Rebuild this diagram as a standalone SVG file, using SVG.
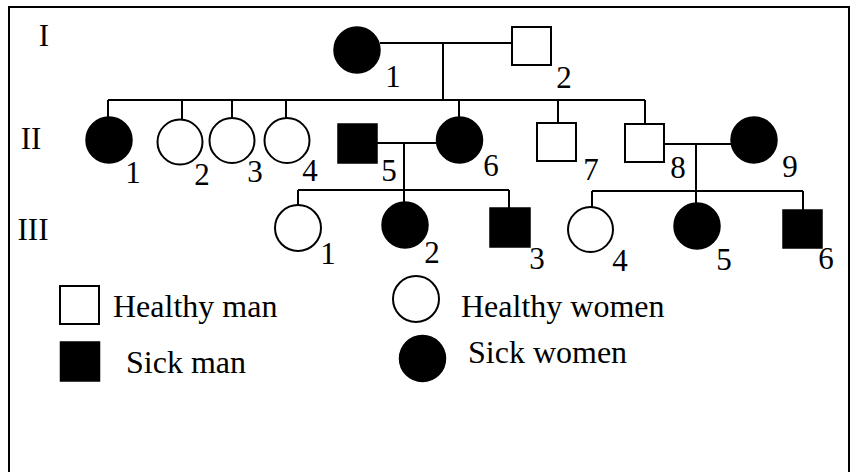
<svg xmlns="http://www.w3.org/2000/svg" width="852" height="472" viewBox="0 0 852 472">
<style>
.bg{fill:#fff}
.frame{fill:none;stroke:#000;stroke-width:2}
.ln{fill:none;stroke:#000;stroke-width:2}
.open{fill:#fff;stroke:#000;stroke-width:2}
.sick{fill:#000;stroke:#000;stroke-width:1.5}
text{font-family:"Liberation Serif","Times New Roman",serif;font-size:31px;fill:#000}
.num{text-anchor:middle}
.leg{font-size:32px}
</style>
<rect class="bg" x="0" y="0" width="852" height="472"/>
<path class="frame" d="M9 473 V7 H849 V473"/>
<g id="generation-labels">
<text class="num" x="44" y="46">I</text>
<text class="num" x="31" y="149">II</text>
<text class="num" x="33" y="240">III</text>
</g>
<g id="connectors">
<path class="ln" d="M380 43 H512"/>
<path class="ln" d="M443 43 V100"/>
<path class="ln" d="M108 100 H645"/>
<path class="ln" d="M108 100 V117 M182 100 V119 M232 100 V118 M286 100 V118 M459 100 V117 M558 100 V123 M645 100 V124"/>
<path class="ln" d="M377 143 H436"/>
<path class="ln" d="M404 143 V202"/>
<path class="ln" d="M298 190 H509"/>
<path class="ln" d="M298 190 V205 M509 190 V208"/>
<path class="ln" d="M664 144 H731"/>
<path class="ln" d="M696 144 V203"/>
<path class="ln" d="M592 191 H803"/>
<path class="ln" d="M592 191 V207 M803 191 V210"/>
</g>
<g id="I-1"><circle class="sick" cx="357" cy="50" r="23"/><text class="num" x="393" y="87">1</text></g>
<g id="I-2"><rect class="open" x="512" y="27" width="39" height="38"/><text class="num" x="564" y="88">2</text></g>
<g id="II-1"><circle class="sick" cx="109" cy="140" r="23"/><text class="num" x="133" y="183">1</text></g>
<g id="II-2"><circle class="open" cx="180" cy="142" r="22.5"/><text class="num" x="202" y="185">2</text></g>
<g id="II-3"><circle class="open" cx="232" cy="140.5" r="22.5"/><text class="num" x="255" y="182">3</text></g>
<g id="II-4"><circle class="open" cx="287" cy="140.5" r="22.5"/><text class="num" x="310" y="181">4</text></g>
<g id="II-5"><rect class="sick" x="338" y="124" width="39" height="39"/><text class="num" x="389" y="181">5</text></g>
<g id="II-6"><circle class="sick" cx="459.5" cy="140" r="23"/><text class="num" x="491" y="176">6</text></g>
<g id="II-7"><rect class="open" x="537" y="123" width="39" height="38"/><text class="num" x="591" y="180">7</text></g>
<g id="II-8"><rect class="open" x="625" y="124" width="39" height="38"/><text class="num" x="678" y="178">8</text></g>
<g id="II-9"><circle class="sick" cx="754" cy="140" r="23"/><text class="num" x="790" y="177">9</text></g>
<g id="III-1"><circle class="open" cx="298" cy="228" r="23"/><text class="num" x="328" y="264">1</text></g>
<g id="III-2"><circle class="sick" cx="405" cy="225" r="23"/><text class="num" x="432" y="263">2</text></g>
<g id="III-3"><rect class="sick" x="490" y="208" width="40" height="39"/><text class="num" x="537" y="269">3</text></g>
<g id="III-4"><circle class="open" cx="590.5" cy="229.5" r="22.5"/><text class="num" x="620" y="271">4</text></g>
<g id="III-5"><circle class="sick" cx="697" cy="226" r="23"/><text class="num" x="724" y="270">5</text></g>
<g id="III-6"><rect class="sick" x="783" y="210" width="39" height="38"/><text class="num" x="826" y="269">6</text></g>
<g id="legend">
<g id="legend-healthy-man"><rect class="open" x="60" y="286" width="39" height="38"/><text class="leg" x="113" y="317">Healthy man</text></g>
<g id="legend-sick-man"><rect class="sick" x="60.5" y="342" width="39" height="39"/><text class="leg" x="126" y="373">Sick man</text></g>
<g id="legend-healthy-women"><circle class="open" cx="416" cy="299" r="23"/><text class="leg" x="461" y="317">Healthy women</text></g>
<g id="legend-sick-women"><circle class="sick" cx="422.5" cy="358.5" r="23"/><text class="leg" x="468" y="363">Sick women</text></g>
</g>
</svg>
